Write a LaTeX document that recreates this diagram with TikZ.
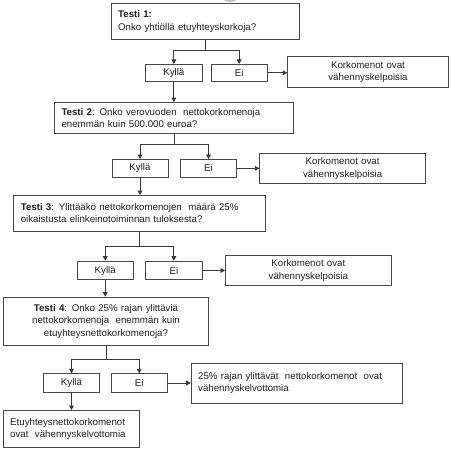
\documentclass[tikz,border=0pt]{standalone}
\usepackage{fontspec}
\setmainfont{Liberation Sans}
\usetikzlibrary{arrows.meta}
\tikzset{
  box/.style={draw=black!72, line width=1pt, inner xsep=7pt, inner ysep=1pt,
    font=\fontsize{9.7}{12.2}\selectfont, text=black!88},
  conn/.style={draw=black!78, line width=0.9pt},
  arr/.style={conn, -{Triangle[length=4.5pt,width=4.8pt]}}
}
\newcommand\bx[7]{%
  \pgfmathsetmacro\bw{#4-#2}%
  \pgfmathsetmacro\bh{#5-#3}%
  \pgfmathsetmacro\tw{#4-#2-14}%
  \node[box,anchor=north west,minimum width=\bw pt,minimum height=\bh pt,
        text width=\tw pt,align=#6] (#1) at (#2,-#3) {#7};}
\begin{document}
\begin{tikzpicture}[x=1pt,y=1pt]
\useasboundingbox (0,0) rectangle (450,-452);
\fill[black!25] (230,0) ellipse (6 and 1.8);
% boxes
\bx{t1}{110.7}{2.7}{299}{39.3}{left}{\textbf{Testi 1:}\\Onko yhtiöllä etuyhteyskorkoja?}
\bx{k1}{145}{64}{201.7}{80.7}{center}{Kyllä}
\bx{e1}{210.7}{64}{266.7}{80.7}{center}{Ei}
\bx{r1}{287.3}{56}{447.7}{86.7}{center}{Korkomenot ovat\\vähennyskelpoisia}
\bx{t2}{54}{102}{293.3}{132.7}{left}{\textbf{Testi 2}: Onko verovuoden\ \ nettokorkomenoja\\enemmän kuin 500.000 euroa?}
\bx{k2}{111.5}{159}{167.5}{176.7}{center}{Kyllä}
\bx{e2}{180}{159}{236}{176.7}{center}{Ei}
\bx{r2}{259.3}{152.7}{425}{183.3}{center}{Korkomenot ovat\\vähennyskelpoisia}
\bx{t3}{13.3}{195}{265}{230.7}{left}{\textbf{Testi 3}: Ylittääkö nettokorkomenojen\ \ määrä 25\%\\oikaistusta elinkeinotoiminnan tuloksesta?}
\bx{k3}{76.7}{260.7}{132.7}{279.3}{center}{Kyllä}
\bx{e3}{145}{260.7}{201.7}{279.3}{center}{Ei}
\bx{r3}{225}{255}{390.7}{285}{center}{Korkomenot ovat\\vähennyskelpoisia}
\bx{t4}{2.7}{296.7}{208.3}{345}{center}{\textbf{Testi 4}: Onko 25\% rajan ylittäviä\\nettokorkomenoja\ \ enemmän kuin\\etuyhteysnettokorkomenoja?}
\bx{k4}{42.7}{373.3}{99.3}{391.7}{center}{Kyllä}
\bx{e4}{110.7}{373.3}{166.7}{391.7}{center}{Ei}
\bx{r4}{190.7}{362.7}{401.7}{402.7}{left}{25\% rajan ylittävät\ \ nettokorkomenot\ \ ovat\\vähennyskelvottomia}
\bx{f}{2.7}{410}{139.3}{447.3}{left}{Etuyhteysnettokorkomenot\\ovat\ \ vähennyskelvottomia}
% junctions
\coordinate (j1) at (t1.south |- 0,-50.7);
\coordinate (j2) at (t2.south |- 0,-144.7);
\coordinate (j3) at (t3.south |- 0,-246);
\coordinate (j4) at (t4.south |- 0,-359.3);
% connectors
\draw[conn] (t1.south) -- (j1);
\draw[arr] (j1) -| (k1.north);
\draw[arr] (j1) -| (e1.north);
\draw[arr] (e1.east) -- (r1.west |- e1.east);
\draw[arr] (k1.south) -- (k1.south |- t2.north);
\draw[conn] (t2.south) -- (j2);
\draw[arr] (j2) -| (k2.north);
\draw[arr] (j2) -| (e2.north);
\draw[arr] (e2.east) -- (r2.west |- e2.east);
\draw[arr] (k2.south) -- (k2.south |- t3.north);
\draw[conn] (t3.south) -- (j3);
\draw[arr] (j3) -| (k3.north);
\draw[arr] (j3) -| (e3.north);
\draw[arr] (e3.east) -- (r3.west |- e3.east);
\draw[arr] (k3.south) -- (k3.south |- t4.north);
\draw[conn] (t4.south) -- (j4);
\draw[arr] (j4) -| (k4.north);
\draw[arr] (j4) -| (e4.north);
\draw[arr] (e4.east) -- (r4.west |- e4.east);
\draw[arr] (k4.south) -- (k4.south |- f.north);
\end{tikzpicture}
\end{document}
